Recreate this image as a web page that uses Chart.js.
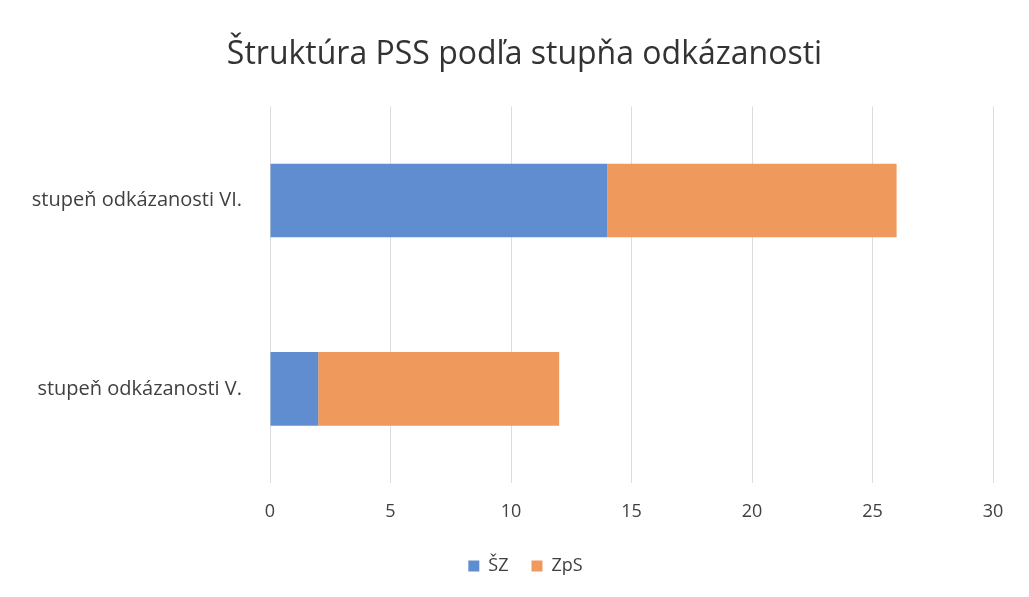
<!DOCTYPE html>
<html>
<head>
<meta charset="utf-8">
<script src="https://cdn.jsdelivr.net/npm/chart.js@4"></script>
<style>
  html, body { margin: 0; padding: 0; background: #fff; }
  #wrap { width: 1029px; height: 597px; }
</style>
</head>
<body>
<div id="wrap"><canvas id="pssChart"></canvas></div>
<script>
// data
var categories = ['stupeň odkázanosti VI.', 'stupeň odkázanosti V.'];
var szValues = [14, 2];
var zpsValues = [12, 10];
var axisMax = 30;
var axisStep = 5;

var font = "'Open Sans', 'Noto Sans', sans-serif";

// title and legend in the original sit a bit right of centre
var shiftBlocks = {
    id: 'shiftBlocks',
    afterLayout: function (chart) {
        if (chart.titleBlock) {
            chart.titleBlock.left += 23;
            chart.titleBlock.right += 23;
        }
        if (chart.legend) {
            chart.legend.left += 24;
            chart.legend.right += 24;
        }
    }
};

var ctx = document.getElementById('pssChart').getContext('2d');
var pssChart = new Chart(ctx, {
    type: 'bar',
    data: {
        labels: categories,
        datasets: [{
            label: 'ŠZ',
            data: szValues,
            backgroundColor: '#5f8dd0',
            barPercentage: 0.62,
            categoryPercentage: 0.63
        }, {
            label: 'ZpS',
            data: zpsValues,
            backgroundColor: '#ef995c',
            barPercentage: 0.62,
            categoryPercentage: 0.63
        }]
    },
    options: {
        indexAxis: 'y',
        responsive: true,
        maintainAspectRatio: false,
        animation: false,
        layout: {
            padding: { top: 36, right: 36, bottom: 12, left: 10 }
        },
        plugins: {
            title: {
                display: true,
                text: 'Štruktúra PSS podľa stupňa odkázanosti',
                color: '#333333',
                font: { family: font, size: 32, weight: 'normal', lineHeight: 1.2 },
                padding: { top: 0, bottom: 32 }
            },
            legend: {
                position: 'bottom',
                labels: {
                    color: '#404040',
                    font: { family: font, size: 18 },
                    boxWidth: 11,
                    boxHeight: 11,
                    padding: 23
                }
            },
            tooltip: { enabled: false }
        },
        scales: {
            x: {
                stacked: true,
                min: 0,
                max: axisMax,
                ticks: {
                    stepSize: axisStep,
                    color: '#404040',
                    font: { family: font, size: 18 },
                    padding: 18
                },
                grid: {
                    color: '#dcdcdc',
                    drawTicks: false
                },
                border: { display: false },
                afterFit: function (scale) {
                    scale.height = 51;
                }
            },
            y: {
                stacked: true,
                ticks: {
                    color: '#404040',
                    font: { family: font, size: 20 },
                    padding: 20
                },
                grid: { display: false },
                border: { display: false },
                afterFit: function (scale) {
                    scale.width = 260;
                }
            }
        }
    },
    plugins: [shiftBlocks]
});
</script>
</body>
</html>
